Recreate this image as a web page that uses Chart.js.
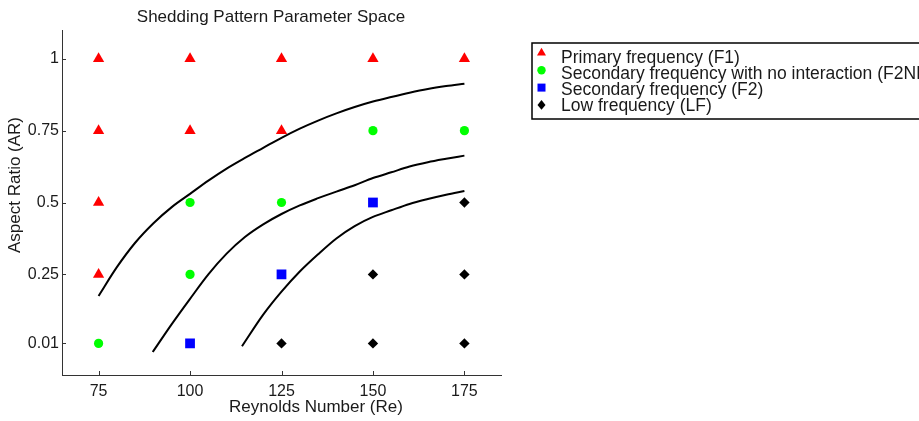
<!DOCTYPE html>
<html>
<head>
<meta charset="utf-8">
<title>Shedding Pattern Parameter Space</title>
<script src="https://cdn.jsdelivr.net/npm/chart.js"></script>
<style>
  body { margin: 0; background: #fff; overflow: hidden; }
  canvas { display: block; }
</style>
</head>
<body>
<canvas id="shedChart" width="919" height="421"></canvas>
<script>
// axis ticks
const xTicks = [75, 100, 125, 150, 175];
const yTicks = [0.01, 0.25, 0.5, 0.75, 1];
const yTickLabels = ["0.01", "0.25", "0.5", "0.75", "1"];

// measured regimes (Re, AR)
const f1Re = [75, 100, 125, 150, 175, 75, 100, 125, 75, 75];
const f1AR = [1, 1, 1, 1, 1, 0.75, 0.75, 0.75, 0.5, 0.25];
const f2niRe = [150, 175, 100, 125, 100, 75];
const f2niAR = [0.75, 0.75, 0.5, 0.5, 0.25, 0.01];
const f2Re = [150, 125, 100];
const f2AR = [0.5, 0.25, 0.01];
const lfRe = [175, 150, 175, 125, 150, 175];
const lfAR = [0.5, 0.25, 0.25, 0.01, 0.01, 0.01];

// regime boundaries
const b1Re = [75, 80, 85, 90, 95, 100, 105, 110, 115, 120, 125, 130, 135, 140, 145, 150, 155, 160, 165, 170, 175];
const b1AR = [0.175, 0.275, 0.36, 0.428, 0.484, 0.53, 0.576, 0.618, 0.655, 0.69, 0.725, 0.757, 0.785, 0.81, 0.832, 0.851, 0.867, 0.882, 0.895, 0.905, 0.913];
const b2Re = [89.8, 95, 100, 105, 110, 115, 120, 125, 130, 135, 140, 145, 150, 155, 160, 165, 170, 175];
const b2AR = [-0.02, 0.077, 0.165, 0.25, 0.322, 0.38, 0.424, 0.46, 0.49, 0.515, 0.538, 0.56, 0.585, 0.605, 0.625, 0.64, 0.652, 0.663];
const b3Re = [114.2, 120, 125, 130, 135, 140, 145, 150, 155, 160, 165, 170, 175];
const b3AR = [0.0, 0.11, 0.19, 0.26, 0.32, 0.375, 0.418, 0.45, 0.473, 0.495, 0.512, 0.527, 0.54];

const pts = (xs, ys) => xs.map((x, i) => ({ x: x, y: ys[i] }));

const font = "'Liberation Sans', Arial, sans-serif";

function marker(ctx, style, x, y, r, color) {
    ctx.fillStyle = color;
    ctx.beginPath();
    if (style === "triangle") {
        const h = r * 1.5, s = r * Math.sqrt(3) / 2;
        ctx.moveTo(x, y - h * 2 / 3);
        ctx.lineTo(x + s, y + h / 3);
        ctx.lineTo(x - s, y + h / 3);
    } else if (style === "circle") {
        ctx.arc(x, y, r, 0, Math.PI * 2);
    } else if (style === "rect") {
        ctx.rect(x - r, y - r, 2 * r, 2 * r);
    } else {
        ctx.moveTo(x, y - r * 1.2);
        ctx.lineTo(x + r, y);
        ctx.lineTo(x, y + r * 1.2);
        ctx.lineTo(x - r, y);
    }
    ctx.closePath();
    ctx.fill();
}

const decorations = {
    id: "decorations",
    afterDraw(chart) {
        const ctx = chart.ctx;
        const { left, bottom } = chart.chartArea;
        const xs = chart.scales.x, ys = chart.scales.y;
        ctx.save();

        // inward tick marks
        ctx.strokeStyle = "#333";
        ctx.lineWidth = 1;
        ctx.beginPath();
        xTicks.forEach(v => {
            const px = Math.round(xs.getPixelForValue(v)) + 0.5;
            ctx.moveTo(px, bottom);
            ctx.lineTo(px, bottom - 4);
        });
        yTicks.forEach(v => {
            const py = Math.round(ys.getPixelForValue(v)) + 0.5;
            ctx.moveTo(left, py);
            ctx.lineTo(left + 4, py);
        });
        ctx.stroke();

        // title and axis titles
        ctx.fillStyle = "#1a1a1a";
        ctx.font = "17px " + font;
        ctx.textAlign = "center";
        ctx.textBaseline = "middle";
        ctx.fillText("Shedding Pattern Parameter Space", 271, 17);
        ctx.fillText("Reynolds Number (Re)", 316, 407);
        ctx.save();
        ctx.translate(15, 185);
        ctx.rotate(-Math.PI / 2);
        ctx.fillText("Aspect Ratio (AR)", 0, 0);
        ctx.restore();

        // legend box
        ctx.fillStyle = "#fff";
        ctx.fillRect(532, 43, 400, 76);
        ctx.strokeStyle = "#000";
        ctx.lineWidth = 1.5;
        ctx.strokeRect(532, 43, 400, 76);
        const items = chart.data.datasets.filter(d => d.inLegend);
        const sizes = { triangle: 5.2, circle: 4.2, rect: 4, rectRot: 4 };
        ctx.textAlign = "left";
        ctx.font = "17.5px " + font;
        items.forEach((d, i) => {
            marker(ctx, d.pointStyle, 541.5, 53 + i * 17.3, sizes[d.pointStyle], d.backgroundColor);
            ctx.fillStyle = "#1a1a1a";
            ctx.fillText(d.label, 561, 58 + i * 16);
        });
        ctx.restore();
    }
};

const boundary = (xs, ys) => ({
    type: "line",
    data: pts(xs, ys),
    borderColor: "#000",
    borderWidth: 2,
    pointRadius: 0,
    fill: false,
    cubicInterpolationMode: "monotone"
});

new Chart(document.getElementById("shedChart").getContext("2d"), {
    type: "scatter",
    data: {
        datasets: [
            { label: "Primary frequency (F1)", inLegend: true, data: pts(f1Re, f1AR),
              pointStyle: "triangle", pointRadius: 6.5, backgroundColor: "#ff0000", borderWidth: 0 },
            { label: "Secondary frequency with no interaction (F2NI)", inLegend: true, data: pts(f2niRe, f2niAR),
              pointStyle: "circle", pointRadius: 4.6, backgroundColor: "#00ff00", borderWidth: 0 },
            { label: "Secondary frequency (F2)", inLegend: true, data: pts(f2Re, f2AR),
              pointStyle: "rect", pointRadius: 6.9, backgroundColor: "#0000ff", borderWidth: 0 },
            { label: "Low frequency (LF)", inLegend: true, data: pts(lfRe, lfAR),
              pointStyle: "rectRot", pointRadius: 5.2, backgroundColor: "#000000", borderWidth: 0 },
            boundary(b1Re, b1AR),
            boundary(b2Re, b2AR),
            boundary(b3Re, b3AR)
        ]
    },
    options: {
        responsive: false,
        animation: false,
        layout: { padding: { top: 30, right: 418, bottom: 0, left: 0 } },
        plugins: {
            legend: { display: false },
            tooltip: { enabled: false }
        },
        scales: {
            x: {
                type: "linear",
                min: 65,
                max: 185,
                afterBuildTicks: s => { s.ticks = xTicks.map(v => ({ value: v })); },
                afterFit: s => { s.height = 46; },
                grid: { display: false, drawTicks: false },
                border: { color: "#333", width: 1 },
                ticks: { color: "#1a1a1a", font: { family: font, size: 16 }, padding: 7, maxRotation: 0 }
            },
            y: {
                type: "linear",
                min: -0.1,
                max: 1.1,
                afterBuildTicks: s => { s.ticks = yTicks.map(v => ({ value: v })); },
                afterFit: s => { s.width = 62; },
                grid: { display: false, drawTicks: false },
                border: { color: "#333", width: 1 },
                ticks: {
                    color: "#1a1a1a",
                    font: { family: font, size: 16 },
                    padding: 3,
                    callback: v => yTickLabels[yTicks.indexOf(v)]
                }
            }
        }
    },
    plugins: [decorations]
});
</script>
</body>
</html>
